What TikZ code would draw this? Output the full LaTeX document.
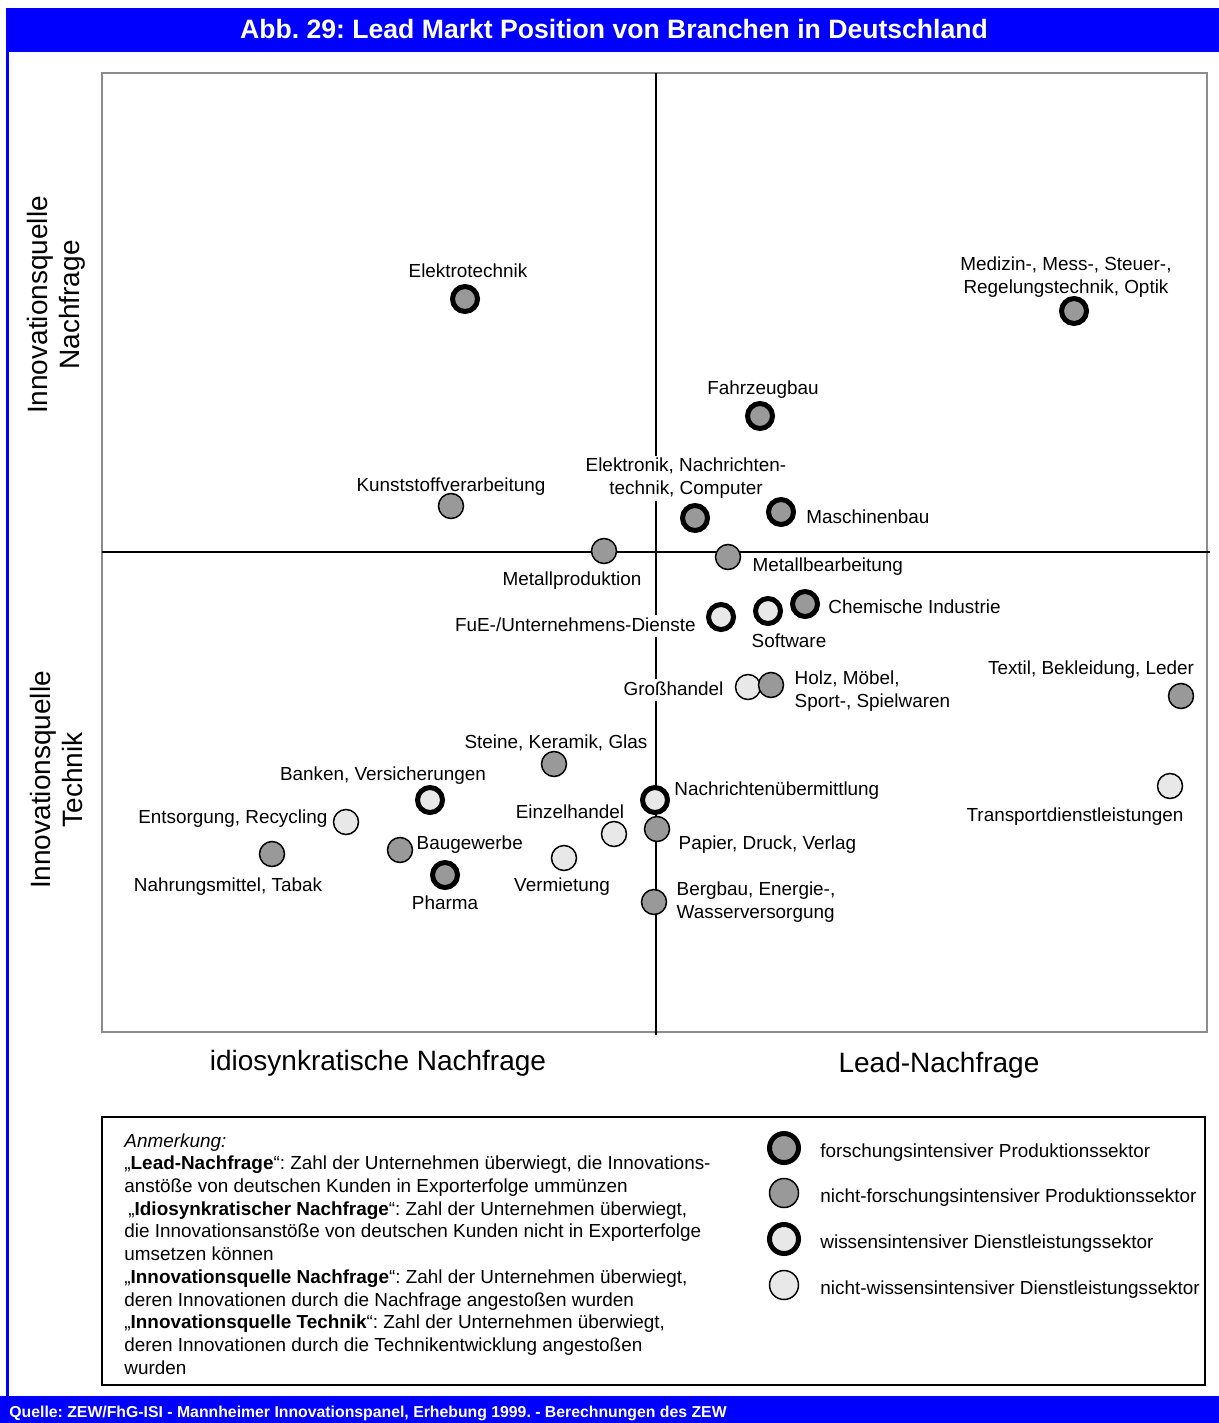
\documentclass[tikz,border=0pt]{standalone}
\usepackage{fontspec}
\setmainfont{Liberation Sans}
\usepackage{xcolor}
\usepackage{tikz}
\usetikzlibrary{positioning}
\definecolor{zewblue}{HTML}{0000FF}
\definecolor{dotdark}{HTML}{999999}
\definecolor{dotlight}{HTML}{E8E8E8}
\definecolor{framegray}{HTML}{8C8C8C}
\frenchspacing

\begin{document}
\begin{tikzpicture}[x=0.5pt, y=-0.5pt,
		lbl/.style={inner sep=1pt, text height=7pt, text depth=2pt, font=\fontsize{9.45}{11.5}\selectfont},
		lbltwo/.style={inner sep=1pt, font=\fontsize{9.45}{11.5}\selectfont},
		dot/.style={circle, draw=black, minimum size=12.5pt, inner sep=0pt},
		forsch/.style={dot, fill=dotdark, line width=2.5pt},
		nforsch/.style={dot, fill=dotdark, line width=0.75pt},
		wiss/.style={dot, fill=dotlight, line width=2.5pt},
		nwiss/.style={dot, fill=dotlight, line width=0.75pt},
		axislbl/.style={font=\fontsize{14}{16}\selectfont, align=center}]
		\useasboundingbox (0,0) rectangle (1219,1423);
		\fill[zewblue] (6,8) rectangle (1219,52);
		\fill[zewblue] (6,52) rectangle (9,1396);
		\fill[zewblue] (0,1396) rectangle (1219,1423);
		\node[text=white, font=\bfseries\fontsize{13.3}{15}\selectfont] (title) at (614,29) {Abb. 29: Lead Markt Position von Branchen in Deutschland};
		\node[text=white, inner sep=0pt, anchor=base west, font=\bfseries\fontsize{7.9}{9}\selectfont] (quelle) at (9,1417) {Quelle: ZEW/FhG-ISI - Mannheimer Innovationspanel, Erhebung 1999. - Berechnungen des ZEW};

		\draw[framegray, line width=1pt] (102,73) rectangle (1207,1032);
		\draw[line width=0.75pt] (656,73) -- (656,1035);
		\draw[line width=0.75pt] (102,552) -- (1210,552);

		\node[axislbl, rotate=90] (nachfrageax) at (56,305) {Innovationsquelle\\Nachfrage};
		\node[axislbl, rotate=90] (technikax) at (56,780) {Innovationsquelle\\Technik};
		\node[axislbl] (idioax) at (378,1063) {idiosynkratische Nachfrage};
		\node[axislbl] (leadax) at (939,1065) {Lead-Nachfrage};

		\node[forsch] (elektro) at (465,299) {};
		\node[lbl, above=0pt of elektro, xshift=1.5pt] (elektrotxt) {Elektrotechnik};
		\node[forsch] (medizin) at (1074,311) {};
		\node[lbltwo, align=center, above=-2pt of medizin, xshift=-4pt] (medizintxt) {Medizin-, Mess-, Steuer-,\\Regelungstechnik, Optik};
		\node[forsch] (fahrzeug) at (760,416) {};
		\node[lbl, above=0pt of fahrzeug, xshift=1.5pt] (fahrzeugtxt) {Fahrzeugbau};
		\node[nforsch] (kunststoff) at (451,506) {};
		\node[lbl, above=-2.5pt of kunststoff] (kunststofftxt) {Kunststoffverarbeitung};
		\node[forsch] (elektronik) at (695,518) {};
		\node[lbltwo, fill=white, align=center, above=1pt of elektronik, xshift=-4.5pt] (elektroniktxt) {Elektronik, Nachrichten-\\technik, Computer};
		\node[forsch] (maschinen) at (781,512) {};
		\node[lbl, right=4pt of maschinen, yshift=-3pt] (maschinentxt) {Maschinenbau};
		\node[nforsch] (metallprod) at (604,551) {};
		\node[lbl, below=2.5pt of metallprod, xshift=-16pt] (metallprodtxt) {Metallproduktion};
		\node[nforsch] (metallbearb) at (728,557) {};
		\node[lbl, right=4.5pt of metallbearb, yshift=-4.5pt] (metallbearbtxt) {Metallbearbeitung};
		\node[wiss] (fue) at (721,617) {};
		\node[lbl, fill=white, left=4pt of fue, yshift=-4.5pt] (fuetxt) {FuE-/Unternehmens-Dienste};
		\node[wiss] (software) at (768,611) {};
		\node[lbl, below=2.5pt of software, xshift=10.5pt] (softwaretxt) {Software};
		\node[forsch] (chemie) at (805,604) {};
		\node[lbl, right=3pt of chemie, yshift=-2pt] (chemietxt) {Chemische Industrie};
		\node[nwiss] (gross) at (748,687) {};
		\node[lbl, fill=white, left=4.5pt of gross, yshift=-1.5pt] (grosstxt) {Großhandel};
		\node[nforsch] (holz) at (771,685) {};
		\node[lbltwo, align=left, right=4pt of holz, yshift=-3pt] (holztxt) {Holz, Möbel,\\Sport-, Spielwaren};
		\node[nforsch] (textil) at (1181,696) {};
		\node[lbl, above=1pt of textil, xshift=-45pt] (textiltxt) {Textil, Bekleidung, Leder};
		\node[nwiss] (transport) at (1170,786) {};
		\node[lbl, below=3pt of transport, xshift=-47.5pt] (transporttxt) {Transportdienstleistungen};
		\node[nforsch] (steine) at (554,764) {};
		\node[lbl, above=-2pt of steine, xshift=1pt] (steinetxt) {Steine, Keramik, Glas};
		\node[wiss] (banken) at (430,800) {};
		\node[lbl, above=-1pt of banken, xshift=-23.5pt] (bankentxt) {Banken, Versicherungen};
		\node[nforsch] (papier) at (657,829) {};
		\node[lbl, right=3pt of papier, yshift=-7.5pt] (papiertxt) {Papier, Druck, Verlag};
		\node[wiss] (nachricht) at (655,800) {};
		\node[lbl, right=1pt of nachricht, yshift=5pt] (nachrichttxt) {Nachrichtenübermittlung};
		\node[nwiss] (einzel) at (614,834) {};
		\node[lbl, above=-2pt of einzel, xshift=-22pt] (einzeltxt) {Einzelhandel};
		\node[nwiss] (entsorgung) at (346,822) {};
		\node[lbl, left=1.5pt of entsorgung, yshift=2pt] (entsorgungtxt) {Entsorgung, Recycling};
		\node[nforsch] (bau) at (400,850) {};
		\node[lbl, right=0.5pt of bau, yshift=3pt] (bautxt) {Baugewerbe};
		\node[nforsch] (nahrung) at (272,854) {};
		\node[lbl, below=4pt of nahrung, xshift=-22pt] (nahrungtxt) {Nahrungsmittel, Tabak};
		\node[forsch] (pharma) at (445,875) {};
		\node[lbl, below=1.5pt of pharma] (pharmatxt) {Pharma};
		\node[nwiss] (vermietung) at (564,858) {};
		\node[lbl, below=2pt of vermietung, xshift=-1pt] (vermietungtxt) {Vermietung};
		\node[nforsch] (bergbau) at (654,902) {};
		\node[lbltwo, align=left, right=3.5pt of bergbau] (bergbautxt) {Bergbau, Energie-,\\Wasserversorgung};

		\draw[line width=1pt] (102,1117) rectangle (1205,1385);
		\node[lbltwo, align=left, anchor=north west, font=\fontsize{9.45}{11.35}\selectfont] (anm) at (122,1131) {\textit{Anmerkung:}\\
			„\textbf{Lead-Nachfrage}“: Zahl der Unternehmen überwiegt, die Innovations-\\
			anstöße von deutschen Kunden in Exporterfolge ummünzen\\
			\hspace*{2pt}„\textbf{Idiosynkratischer Nachfrage}“: Zahl der Unternehmen überwiegt,\\
			die Innovationsanstöße von deutschen Kunden nicht in Exporterfolge\\
			umsetzen können\\
			„\textbf{Innovationsquelle Nachfrage}“: Zahl der Unternehmen überwiegt,\\
			deren Innovationen durch die Nachfrage angestoßen wurden\\
			„\textbf{Innovationsquelle Technik}“: Zahl der Unternehmen überwiegt,\\
			deren Innovationen durch die Technikentwicklung angestoßen\\
			wurden};
		\node[forsch, minimum size=14.5pt] (lgforsch) at (784,1148) {};
		\node[lbl, right=8.5pt of lgforsch, yshift=-2pt] (lgforschtxt) {forschungsintensiver Produktionssektor};
		\node[nforsch, minimum size=14.5pt] (lgnforsch) at (784,1193) {};
		\node[lbl, right=9.4pt of lgnforsch, yshift=-2pt] (lgnforschtxt) {nicht-forschungsintensiver Produktionssektor};
		\node[wiss, minimum size=14.5pt] (lgwiss) at (784,1239) {};
		\node[lbl, right=8.5pt of lgwiss, yshift=-2pt] (lgwisstxt) {wissensintensiver Dienstleistungssektor};
		\node[nwiss, minimum size=14.5pt] (lgnwiss) at (784,1285) {};
		\node[lbl, right=9.4pt of lgnwiss, yshift=-2pt] (lgnwisstxt) {nicht-wissensintensiver Dienstleistungssektor};
	\end{tikzpicture}
\end{document}
